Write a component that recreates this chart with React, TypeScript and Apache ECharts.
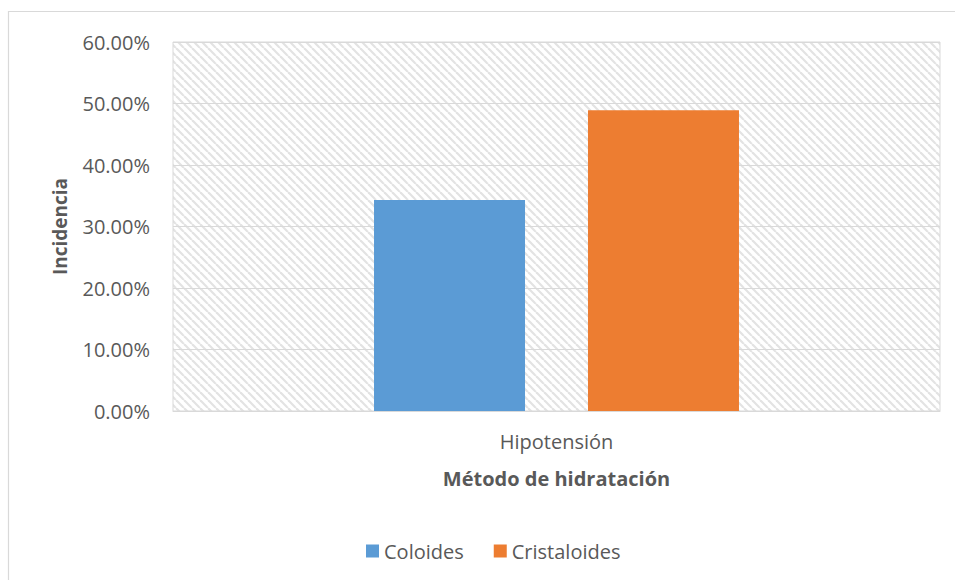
import React, { useEffect, useRef } from "react";
import * as echarts from "echarts";

const categories = ["Hipotensión"];
const seriesNames = ["Coloides", "Cristaloides"];
const coloidesValues = [34.3];
const cristaloidesValues = [48.9];
const yTicks = { min: 0, max: 60, interval: 10 };

const FONT = "Open Sans";
const TEXT = "#595959";
const GRIDC = "#d9d9d9";

function makePattern(): HTMLCanvasElement {
  const c = document.createElement("canvas");
  c.width = 8;
  c.height = 8;
  const ctx = c.getContext("2d")!;
  ctx.fillStyle = "#ffffff";
  ctx.fillRect(0, 0, 8, 8);
  ctx.strokeStyle = "#e3e3e3";
  ctx.lineWidth = 2.2;
  for (const x0 of [-8, 0, 8]) {
    ctx.beginPath();
    ctx.moveTo(x0, 0);
    ctx.lineTo(x0 + 8, 8);
    ctx.stroke();
  }
  return c;
}

export default function App() {
  const ref = useRef<HTMLDivElement>(null);
  useEffect(() => {
    if (!ref.current) return;
    const chart = echarts.init(ref.current, null, { renderer: "svg" });
    const pattern = makePattern();
    chart.setOption({
      animation: false,
      backgroundColor: "#ffffff",
      textStyle: { fontFamily: FONT },
      grid: {
        left: 173,
        top: 42,
        right: 15,
        height: 369,
        show: true,
        borderColor: GRIDC,
        borderWidth: 1,
        backgroundColor: {
          image: pattern,
          repeat: "repeat",
          imageWidth: 8,
          imageHeight: 8,
        } as any,
      },
      graphic: [
        {
          type: "rect",
          shape: { x: 8.5, y: 11.5, width: 1000, height: 1000 },
          style: { fill: "none", stroke: GRIDC, lineWidth: 1.2 },
          silent: true,
        },
      ],
      legend: {
        data: seriesNames,
        top: 536,
        left: 361,
        icon: "rect",
        itemWidth: 13,
        itemHeight: 13,
        itemGap: 30,
        textStyle: { color: TEXT, fontSize: 20, fontFamily: FONT },
      },
      xAxis: {
        type: "category",
        data: categories,
        axisLine: { lineStyle: { color: GRIDC, width: 1 } },
        axisTick: { show: false },
        axisLabel: { color: TEXT, fontSize: 20, margin: 20, fontFamily: FONT },
        name: "Método de hidratación",
        nameLocation: "middle",
        nameGap: 57,
        nameTextStyle: { color: TEXT, fontSize: 20, fontWeight: "bold", fontFamily: FONT },
      },
      yAxis: {
        type: "value",
        min: yTicks.min,
        max: yTicks.max,
        interval: yTicks.interval,
        axisLine: { show: false },
        axisTick: { show: false },
        splitLine: { lineStyle: { color: GRIDC, width: 1 } },
        axisLabel: {
          color: TEXT,
          fontSize: 20,
          margin: 23,
          fontFamily: FONT,
          formatter: (v: number) => v.toFixed(2) + "%",
        },
        name: "Incidencia",
        nameLocation: "middle",
        nameGap: 104,
        nameTextStyle: { color: TEXT, fontSize: 19, fontWeight: "bold", fontFamily: FONT },
      },
      series: [
        {
          name: seriesNames[0],
          type: "bar",
          data: coloidesValues,
          barWidth: 151,
          barGap: "41.7%",
          itemStyle: { color: "#5B9BD5" },
        },
        {
          name: seriesNames[1],
          type: "bar",
          data: cristaloidesValues,
          barWidth: 151,
          barGap: "41.7%",
          itemStyle: { color: "#ED7D31" },
        },
      ],
    });
    return () => chart.dispose();
  }, []);
  return (
    <div
      ref={ref}
      style={{ position: "fixed", left: 0, top: 0, width: 955, height: 580 }}
    />
  );
}
